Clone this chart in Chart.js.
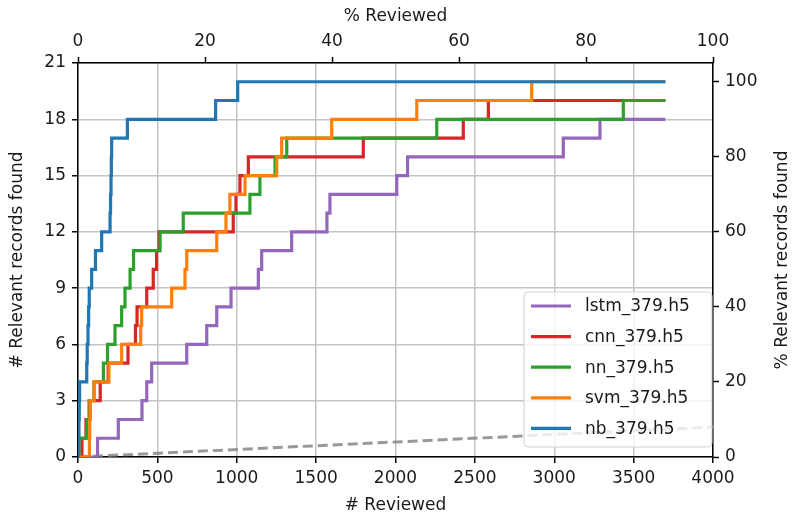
<!DOCTYPE html>
<html>
<head>
    <title>Recall curves - 379</title>
    <script src="https://cdn.jsdelivr.net/npm/chart.js"></script>
    <style>
        body {
            background: #ffffff;
            margin: 0;
        }
        #chartContainer {
            width: 793px;
            height: 521px;
        }
    </style>
</head>
<body>
    <div id="chartContainer">
        <canvas id="myChart" width="793" height="521"></canvas>
    </div>

    <script>
        // # reviewed at which each model reaches the next relevant record (last entry = end of run)
        const lstmX = [0, 123, 254, 403, 433, 464, 685, 811, 874, 964, 1136, 1157, 1346, 1568, 1587, 2008, 2076, 3057, 3288, 3700];
        const lstmY = [0, 1, 2, 3, 4, 5, 6, 7, 8, 9, 10, 11, 12, 13, 14, 15, 16, 17, 18, 18];

        const cnnX = [0, 25, 50, 70, 140, 190, 315, 362, 372, 433, 474, 495, 510, 978, 995, 1020, 1073, 1797, 2427, 2585, 3700];
        const cnnY = [0, 1, 2, 3, 4, 5, 6, 7, 8, 9, 10, 11, 12, 13, 14, 15, 16, 17, 18, 19, 19];

        const nnX = [0, 6, 55, 76, 101, 160, 186, 233, 275, 296, 328, 350, 517, 663, 1083, 1146, 1241, 1315, 2260, 3435, 3700];
        const nnY = [0, 1, 2, 3, 4, 5, 6, 7, 8, 9, 10, 11, 12, 13, 14, 15, 16, 17, 18, 19, 19];

        const svmX = [0, 72, 74, 76, 101, 195, 275, 395, 401, 590, 674, 685, 874, 932, 957, 1052, 1252, 1283, 1598, 2134, 2858, 3700];
        const svmY = [0, 1, 2, 3, 4, 5, 6, 7, 8, 9, 10, 11, 12, 13, 14, 15, 16, 17, 18, 19, 20, 20];

        const nbX = [0, 4, 6, 8, 10, 55, 58, 63, 67, 71, 86, 110, 149, 202, 205, 208, 210, 212, 311, 867, 1006, 3700];
        const nbY = [0, 1, 2, 3, 4, 5, 6, 7, 8, 9, 10, 11, 12, 13, 14, 15, 16, 17, 18, 19, 20, 20];

        // random reading baseline (dashed)
        const randomX = [0, 4000];
        const randomY = [0, 1.6];

        const labels = ['lstm_379.h5', 'cnn_379.h5', 'nn_379.h5', 'svm_379.h5', 'nb_379.h5'];
        const colors = ['#9467bd', '#d62728', '#2ca02c', '#ff7f0e', '#1f77b4'];

        const leftTicks = [0, 3, 6, 9, 12, 15, 18, 21];
        const rightTicks = [0, 20, 40, 60, 80, 100];
        const bottomTicks = [0, 500, 1000, 1500, 2000, 2500, 3000, 3500, 4000];
        const topTicks = [0, 20, 40, 60, 80, 100];

        function toPoints(xs, ys) {
            return xs.map((x, i) => ({ x: x, y: ys[i] }));
        }

        const seriesX = [lstmX, cnnX, nnX, svmX, nbX];
        const seriesY = [lstmY, cnnY, nnY, svmY, nbY];

        const datasets = labels.map((label, i) => ({
            label: label,
            data: toPoints(seriesX[i], seriesY[i]),
            borderColor: colors[i],
            backgroundColor: colors[i],
            borderWidth: 3.2,
            pointRadius: 0,
            stepped: 'before',
            fill: false,
            order: 4 - i // later series drawn on top, like matplotlib
        }));
        datasets.push({
            label: 'random',
            data: toPoints(randomX, randomY),
            borderColor: 'rgba(128,128,128,0.8)',
            borderWidth: 3,
            borderDash: [10, 5],
            pointRadius: 0,
            fill: false,
            order: 10
        });

        Chart.defaults.font.family = "'DejaVu Sans', sans-serif";
        Chart.defaults.font.size = 17;
        Chart.defaults.color = '#1a1a1a';

        const gridColor = '#c4c4c4';
        const plain = v => String(v);

        // right axis title reads bottom-to-top, plus the in-plot legend
        const extras = {
            id: 'extras',
            afterDatasetsDraw(chart) {
                const ctx = chart.ctx;
                const area = chart.chartArea;
                ctx.save();
                ctx.fillStyle = '#1a1a1a';
                ctx.font = "17px 'DejaVu Sans', sans-serif";
                ctx.textAlign = 'center';
                ctx.textBaseline = 'middle';
                ctx.translate(783, (area.top + area.bottom) / 2);
                ctx.rotate(-Math.PI / 2);
                ctx.fillText('% Relevant records found', 0, 0);
                ctx.restore();

                // legend box
                const bx = 524, by = 292, bw = 188, bh = 155, r = 4;
                ctx.save();
                ctx.beginPath();
                ctx.moveTo(bx + r, by);
                ctx.arcTo(bx + bw, by, bx + bw, by + bh, r);
                ctx.arcTo(bx + bw, by + bh, bx, by + bh, r);
                ctx.arcTo(bx, by + bh, bx, by, r);
                ctx.arcTo(bx, by, bx + bw, by, r);
                ctx.closePath();
                ctx.fillStyle = 'rgba(255,255,255,0.8)';
                ctx.fill();
                ctx.strokeStyle = '#d0d0d0';
                ctx.lineWidth = 1;
                ctx.stroke();

                ctx.font = "17px 'DejaVu Sans', sans-serif";
                ctx.textAlign = 'left';
                ctx.textBaseline = 'middle';
                labels.forEach((label, i) => {
                    const y = 306 + i * 30.6;
                    ctx.strokeStyle = colors[i];
                    ctx.lineWidth = 3.2;
                    ctx.beginPath();
                    ctx.moveTo(531, y);
                    ctx.lineTo(571, y);
                    ctx.stroke();
                    ctx.fillStyle = '#1a1a1a';
                    ctx.fillText(label, 585, y + 1);
                });
                ctx.restore();
            }
        };

        const config = {
            type: 'line',
            data: { datasets: datasets },
            options: {
                responsive: false,
                animation: false,
                layout: { padding: 0 },
                plugins: {
                    legend: { display: false },
                    tooltip: { enabled: false }
                },
                scales: {
                    x: {
                        type: 'linear',
                        position: 'bottom',
                        min: 0,
                        max: 4000,
                        afterBuildTicks: axis => { axis.ticks = bottomTicks.map(v => ({ value: v })); },
                        afterFit: axis => { axis.height = 64; },
                        title: {
                            display: true,
                            text: '# Reviewed',
                            padding: { top: 0, bottom: 5 }
                        },
                        ticks: { padding: 5, maxRotation: 0, callback: plain },
                        grid: { color: gridColor, lineWidth: 1.5, tickColor: '#000', tickLength: 6, tickWidth: 1.5 },
                        border: { color: '#000', width: 1.5 }
                    },
                    x2: {
                        type: 'linear',
                        position: 'top',
                        min: 0,
                        max: 100,
                        afterBuildTicks: axis => { axis.ticks = topTicks.map(v => ({ value: v })); },
                        afterFit: axis => { axis.height = 63; },
                        title: {
                            display: true,
                            text: '% Reviewed',
                            padding: { top: 6, bottom: 0 }
                        },
                        ticks: { padding: 5, maxRotation: 0, callback: plain },
                        grid: { drawOnChartArea: false, tickColor: '#000', tickLength: 6, tickWidth: 1.5 },
                        border: { color: '#000', width: 1.5 }
                    },
                    y: {
                        type: 'linear',
                        position: 'left',
                        min: 0,
                        max: 21,
                        afterBuildTicks: axis => { axis.ticks = leftTicks.map(v => ({ value: v })); },
                        afterFit: axis => { axis.width = 78; },
                        title: {
                            display: true,
                            text: '# Relevant records found',
                            padding: { top: 7, bottom: 0 }
                        },
                        ticks: { padding: 6, callback: plain },
                        grid: { color: gridColor, lineWidth: 1.5, tickColor: '#000', tickLength: 6, tickWidth: 1.5 },
                        border: { color: '#000', width: 1.5 }
                    },
                    y2: {
                        type: 'linear',
                        position: 'right',
                        min: 0,
                        max: 105,
                        afterBuildTicks: axis => { axis.ticks = rightTicks.map(v => ({ value: v })); },
                        afterFit: axis => { axis.width = 80; },
                        ticks: { padding: 6, callback: plain },
                        grid: { drawOnChartArea: false, tickColor: '#000', tickLength: 6, tickWidth: 1.5 },
                        border: { color: '#000', width: 1.5 }
                    }
                }
            },
            plugins: [extras]
        };

        const ctx = document.getElementById('myChart').getContext('2d');
        const myChart = new Chart(ctx, config);
    </script>
</body>
</html>
